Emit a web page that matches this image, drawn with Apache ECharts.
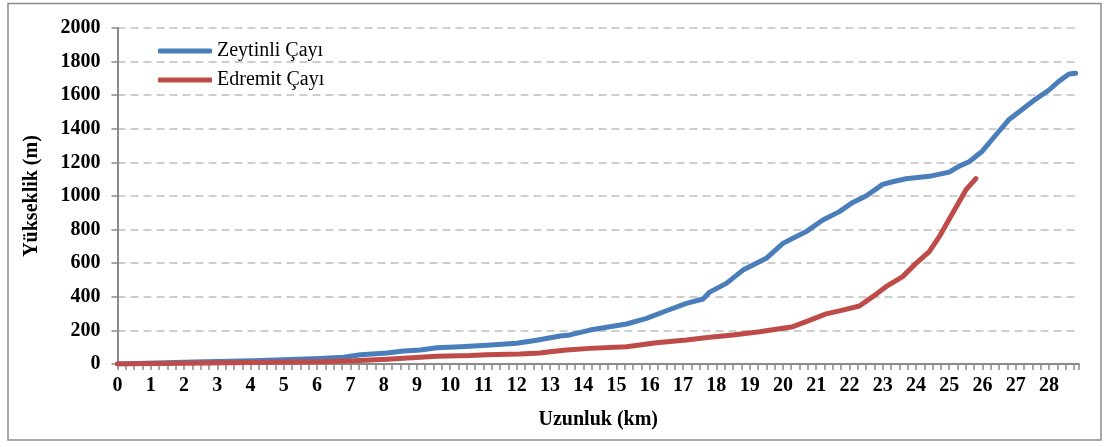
<!DOCTYPE html>
<html>
<head>
<meta charset="utf-8">
<script src="https://cdn.jsdelivr.net/npm/echarts@6/dist/echarts.min.js"></script>
<style>
  html, body { margin: 0; padding: 0; background: #fff; }
  #chart { width: 1105px; height: 447px; }
</style>
</head>
<body>
<div id="chart"></div>
<script>
// Longitudinal river profiles: distance along the channel (km) vs. elevation (m)
const seriesNames = ['Zeytinli Çayı', 'Edremit Çayı'];

const zeytinliKm = [0, 2.3, 4.1, 6.1, 6.8, 7.3, 8.1, 8.6, 9.1, 9.6, 10.3, 11.1, 12.0, 12.6,
  13.3, 13.6, 14.2, 15.3, 15.9, 16.5, 17.1, 17.6, 17.8, 18.3, 18.8, 19.1, 19.5, 20.0,
  20.3, 20.7, 21.2, 21.7, 22.1, 22.5, 23.0, 23.3, 23.7, 24.4, 25.0, 25.3, 25.6, 26.0,
  26.4, 26.8, 27.2, 27.6, 28.0, 28.3, 28.6, 28.8];
const zeytinliM = [0, 12, 20, 33, 40, 55, 65, 77, 83, 97, 103, 111, 123, 141,
  167, 173, 202, 238, 272, 317, 361, 387, 428, 480, 559, 589, 629, 718,
  748, 788, 857, 907, 962, 1000, 1069, 1085, 1103, 1117, 1142, 1178, 1204, 1268,
  1363, 1456, 1516, 1577, 1631, 1684, 1726, 1730];

const edremitKm = [0, 3.3, 6.1, 7.1, 8.1, 9.1, 9.6, 10.6, 11.1, 12.1, 12.7, 13.0, 13.5,
  14.2, 15.3, 16.2, 17.1, 17.8, 18.5, 19.3, 20.3, 20.7, 21.3, 21.8, 22.3, 22.7,
  23.1, 23.6, 24.0, 24.4, 24.7, 25.1, 25.5, 25.8];
const edremitM = [0, 8, 14, 20, 29, 40, 46, 50, 55, 60, 66, 73, 83,
  93, 103, 127, 143, 159, 173, 192, 222, 252, 298, 321, 345, 401,
  460, 520, 599, 669, 758, 897, 1036, 1103];

const xAxisTitle = 'Uzunluk (km)';
const yAxisTitle = 'Yükseklik (m)';

const pairs = (xs, ys) => xs.map((x, i) => [x, ys[i]]);

const serif = 'Liberation Serif';
const axisGray = '#8a8a8a';
const colors = ['#4A7EBB', '#BE4B48'];

const chart = echarts.init(document.getElementById('chart'), null, { renderer: 'canvas' });

chart.setOption({
  animation: false,
  backgroundColor: '#fff',
  textStyle: { fontFamily: serif },
  graphic: [{
    type: 'rect',
    shape: { x: 8, y: 3.5, width: 1093, height: 436.5 },
    style: { fill: 'none', stroke: '#8c8c8c', lineWidth: 1.5 },
    silent: true
  }],
  grid: { left: 117.5, right: 26, top: 28, bottom: 83 },
  legend: {
    orient: 'vertical',
    left: 153,
    top: 36,
    itemWidth: 54,
    itemHeight: 5,
    itemGap: 9,
    icon: 'roundRect',
    textStyle: { fontFamily: serif, fontSize: 20, color: '#000' },
    data: seriesNames.map(n => ({ name: n, textStyle: { fontFamily: serif, fontSize: 20, color: '#000' } }))
  },
  xAxis: {
    type: 'value',
    min: 0,
    max: 28.9,
    interval: 1,
    name: xAxisTitle,
    nameLocation: 'middle',
    nameGap: 46,
    nameTextStyle: { fontFamily: serif, fontSize: 20, fontWeight: 'bold', color: '#000' },
    axisLine: { show: true, lineStyle: { color: axisGray, width: 2 } },
    axisTick: { show: true, inside: false, length: 6, lineStyle: { color: axisGray, width: 1.5 } },
    minorTick: { show: true, splitNumber: 4, length: 6, lineStyle: { color: axisGray, width: 1.5 } },
    axisLabel: {
      showMaxLabel: false,
      margin: 12,
      formatter: v => String(v),
      fontFamily: serif, fontSize: 20, fontWeight: 'bold', color: '#000'
    },
    splitLine: { show: false }
  },
  yAxis: {
    type: 'value',
    min: 0,
    max: 2000,
    interval: 200,
    name: yAxisTitle,
    nameLocation: 'middle',
    nameGap: 76,
    nameRotate: 90,
    nameTextStyle: { fontFamily: serif, fontSize: 20, fontWeight: 'bold', color: '#000' },
    axisLine: { show: true, lineStyle: { color: axisGray, width: 2 } },
    axisTick: { show: true, inside: false, length: 6, lineStyle: { color: axisGray, width: 1.5 } },
    axisLabel: {
      margin: 17,
      formatter: v => String(v),
      fontFamily: serif, fontSize: 20, fontWeight: 'bold', color: '#000'
    },
    splitLine: { show: true, lineStyle: { color: '#BFBFBF', width: 1.5, type: [8, 5] } }
  },
  series: [
    {
      name: seriesNames[0],
      type: 'line',
      data: pairs(zeytinliKm, zeytinliM),
      showSymbol: false,
      symbol: 'none',
      color: colors[0],
      lineStyle: { color: colors[0], width: 5, cap: 'round', join: 'round' },
      itemStyle: { color: colors[0] }
    },
    {
      name: seriesNames[1],
      type: 'line',
      data: pairs(edremitKm, edremitM),
      showSymbol: false,
      symbol: 'none',
      color: colors[1],
      lineStyle: { color: colors[1], width: 5, cap: 'round', join: 'round' },
      itemStyle: { color: colors[1] }
    }
  ]
});
</script>
</body>
</html>
